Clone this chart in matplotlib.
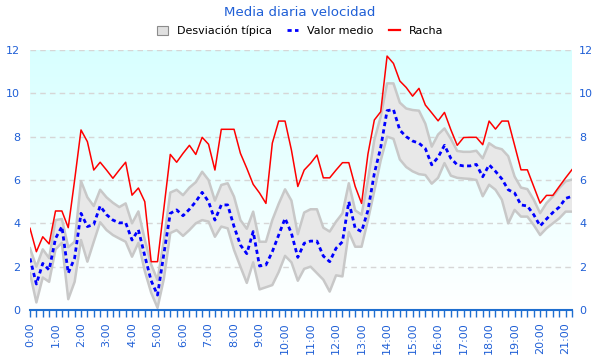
import numpy as np
import matplotlib
matplotlib.use('Agg')
import matplotlib.pyplot as plt
from matplotlib.patches import Patch
from matplotlib.lines import Line2D
from matplotlib.ticker import MultipleLocator, FixedLocator
from matplotlib.colors import LinearSegmentedColormap

# ---- data (15-minute samples starting at 0:00) ----
step_hours = 0.25
racha = [3.77, 2.69, 3.38, 3.05, 4.57, 4.57, 3.8, 6.0, 8.31, 7.77,
         6.46, 6.82, 6.46, 6.08, 6.46, 6.82, 5.3, 5.63, 5.0, 2.23,
         2.23, 4.7, 7.18, 6.82, 7.23, 7.6, 7.18, 7.97, 7.65, 6.46,
         8.34, 8.34, 8.34, 7.23, 6.54, 5.8, 5.4, 4.92, 7.7, 8.72,
         8.72, 7.38, 5.7, 6.46, 6.77, 7.15, 6.1, 6.1, 6.46, 6.8,
         6.8, 5.7, 4.92, 7.2, 8.77, 9.15, 11.72, 11.38, 10.57, 10.27,
         9.87, 10.23, 9.46, 9.1, 8.73, 9.12, 8.32, 7.6, 7.96, 7.97,
         7.97, 7.63, 8.72, 8.35, 8.72, 8.72, 7.6, 6.47, 6.47, 5.7,
         4.93, 5.29, 5.29, 5.7, 6.1, 6.48]
media = [2.38, 1.2, 2.15, 1.85, 3.3, 3.85, 1.7, 2.4, 4.46, 3.85,
         3.95, 4.8, 4.4, 4.15, 4.02, 4.03, 3.23, 3.7, 2.5, 1.35,
         0.69, 2.6, 4.46, 4.62, 4.35, 4.65, 5.0, 5.43, 5.0, 4.15,
         4.85, 4.85, 3.85, 3.0, 2.6, 3.62, 2.03, 2.08, 2.69, 3.46,
         4.23, 3.54, 2.43, 3.08, 3.18, 3.18, 2.49, 2.23, 2.85, 3.15,
         5.0, 3.77, 3.62, 4.6, 6.3, 7.5, 9.2, 9.25, 8.3, 8.0,
         7.8, 7.7, 7.45, 6.7, 7.05, 7.6, 7.0, 6.7, 6.65, 6.65,
         6.72, 6.15, 6.7, 6.4, 6.05, 5.55, 5.4, 4.85, 4.8, 4.4,
         3.88, 4.2, 4.5, 4.75, 5.15, 5.25]
desv_sup = [2.85, 2.0, 2.8, 2.4, 4.15, 4.2, 2.9, 3.15, 5.95, 5.2,
            4.8, 5.55, 5.2, 4.95, 4.75, 4.92, 4.0, 4.55, 3.25, 2.1,
            1.38, 3.23, 5.42, 5.55, 5.3, 5.65, 5.9, 6.38, 6.0, 5.05,
            5.77, 5.85, 5.23, 4.15, 3.75, 4.54, 3.15, 3.15, 4.15, 4.9,
            5.57, 5.05, 3.5, 4.5, 4.65, 4.65, 3.8, 3.62, 4.08, 4.46,
            5.85, 4.6, 4.4, 6.0, 7.85, 8.92, 10.46, 10.46, 9.57, 9.3,
            9.23, 9.2, 8.6, 7.54, 8.1, 8.38, 7.9, 7.34, 7.3, 7.3,
            7.35, 7.0, 7.7, 7.5, 7.42, 7.1, 6.16, 5.65, 5.58, 5.09,
            4.47, 4.93, 5.24, 5.63, 5.94, 6.02]
desv_inf = [1.69, 0.35, 1.5, 1.3, 2.8, 3.1, 0.5, 1.3, 3.23, 2.23,
            3.15, 4.05, 3.69, 3.46, 3.3, 3.15, 2.46, 3.1, 1.8, 0.8,
            0.1, 1.45, 3.55, 3.69, 3.42, 3.69, 4.0, 4.15, 4.08, 3.38,
            3.85, 3.77, 2.77, 2.0, 1.25, 2.2, 0.95, 1.05, 1.15, 1.75,
            2.5, 2.2, 1.35, 1.9, 2.0, 1.7, 1.4, 0.85, 1.6, 1.55,
            3.6, 2.92, 2.92, 4.15, 5.5, 6.9, 8.0, 7.9, 6.95, 6.6,
            6.4, 6.27, 6.23, 5.83, 6.1, 6.78, 6.2, 6.1, 6.07, 6.05,
            6.0, 5.25, 5.78, 5.55, 5.09, 4.0, 4.62, 4.31, 4.31, 3.92,
            3.46, 3.77, 4.0, 4.23, 4.54, 4.54]
hour_labels = [f"{h}:00" for h in range(22)]
y_ticks = [0, 2, 4, 6, 8, 10, 12]

t = np.arange(len(media)) * step_hours

BLUE_TXT = '#1f5fd6'

fig = plt.figure(figsize=(6, 3.6), dpi=100)
ax = fig.add_axes([30/600, 50/360, 542/600, 260/360])

# background gradient
cmap = LinearSegmentedColormap.from_list('bg', ['#ffffff', '#d8ffff'])
grad = np.linspace(0, 1, 256).reshape(-1, 1)
ax.imshow(grad, extent=[0, 1, 0, 1], transform=ax.transAxes, aspect='auto',
          cmap=cmap, origin='lower', zorder=0)

for yv in y_ticks[1:]:
    ax.axhline(yv, color='#d6d6d6', lw=1, ls=(0, (4, 3)), zorder=1)

ax.fill_between(t, desv_inf, desv_sup, facecolor='#e8e8e8', edgecolor='none', zorder=2)
ax.plot(t, desv_sup, color='#c8c8c8', lw=1.8, zorder=3)
ax.plot(t, desv_inf, color='#c8c8c8', lw=1.8, zorder=3)
ax.plot(t, racha, color='#ff0000', lw=1.1, zorder=5)
ax.plot(t, media, color='#0000ff', lw=2.0, ls=(0, (1.5, 1.2)), zorder=4)

ax.set_xlim(0, t[-1])
ax.set_ylim(0, 12)

ax.xaxis.set_major_locator(FixedLocator(list(range(len(hour_labels)))))
ax.set_xticklabels(hour_labels, rotation=90, color=BLUE_TXT, fontsize=8)
ax.xaxis.set_minor_locator(MultipleLocator(step_hours))
ax.tick_params(axis='x', which='both', direction='out', length=5, width=1,
               color='#1f6fd0', pad=4)

ax.set_yticks(y_ticks)
ax.set_yticklabels([str(v) for v in y_ticks], color=BLUE_TXT, fontsize=8)
ax.tick_params(axis='y', which='both', length=0, pad=7)

for s in ['left', 'right', 'top']:
    ax.spines[s].set_visible(False)
ax.spines['bottom'].set_color('#1f6fd0')
ax.spines['bottom'].set_linewidth(1.5)
ax.spines['bottom'].set_zorder(6)

ax2 = ax.twinx()
ax2.set_ylim(0, 12)
ax2.set_yticks(y_ticks)
ax2.set_yticklabels([str(v) for v in y_ticks], color=BLUE_TXT, fontsize=8)
ax2.tick_params(axis='y', length=0, pad=5)
for s in ax2.spines.values():
    s.set_visible(False)

fig.text(0.5, 1 - 12/360, 'Media diaria velocidad', ha='center', va='center',
         color=BLUE_TXT, fontsize=9.6)

handles = [Patch(facecolor='#e0e0e0', edgecolor='#8c8c8c', lw=0.8),
           Line2D([], [], color='#0000ff', lw=2, ls=(0, (1.5, 1.2))),
           Line2D([], [], color='#ff0000', lw=1.6)]
labels = ['Desviación típica', 'Valor medio', 'Racha']
fig.legend(handles, labels, loc='center', bbox_to_anchor=(0.5, 1 - 31/360),
           ncol=3, frameon=False, fontsize=8, handlelength=1.0, handleheight=0.8,
           handletextpad=0.8, columnspacing=1.4)

fig.savefig('out.png', dpi=100)
